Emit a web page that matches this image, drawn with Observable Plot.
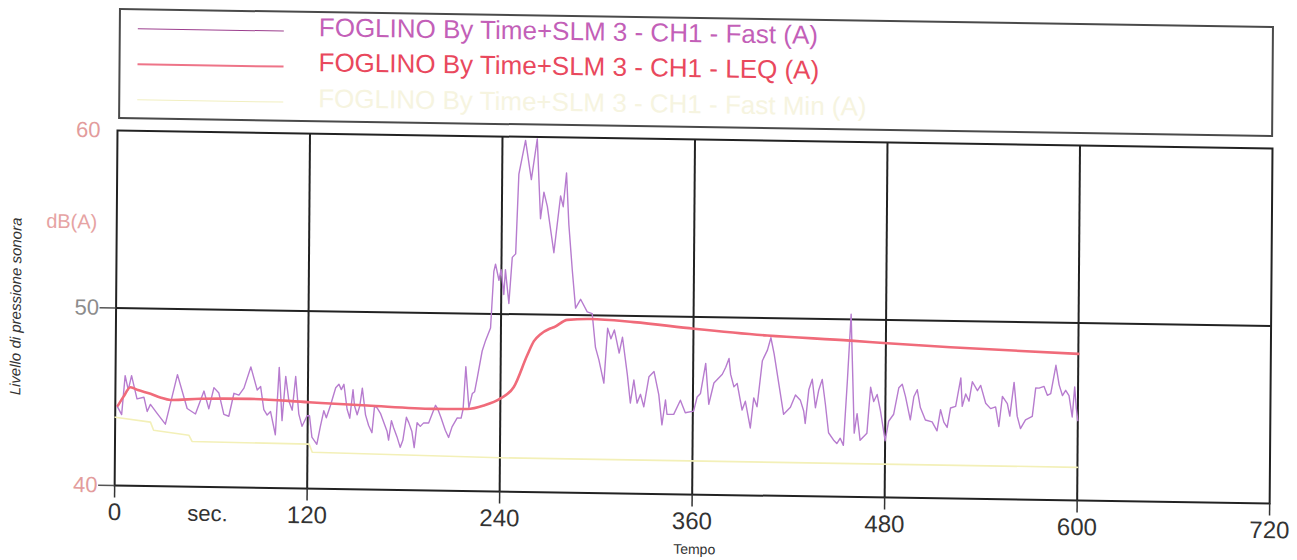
<!DOCTYPE html>
<html>
<head>
<meta charset="utf-8">
<script src="https://cdn.jsdelivr.net/npm/d3@7"></script>
<script src="https://cdn.jsdelivr.net/npm/@observablehq/plot@0.6"></script>
<style>
  html, body { margin: 0; padding: 0; background: #fff; }
  #page {
    position: absolute; left: 0; top: 0; width: 1297px; height: 560px;
    transform-origin: 117px 130px;
    transform: matrix(1, 0.0156, -0.008, 1, 0, 0);
    font-family: "Liberation Sans", Arial, sans-serif;
  }
  #legend {
    position: absolute; left: 118px; top: 8px; width: 1151px; height: 107px;
    border: 2px solid #4a4a4a; box-sizing: content-box;
  }
  .swatch { position: absolute; left: 17px; width: 146px; height: 0; }
  .entry { position: absolute; left: 198px; font-size: 26px; line-height: 1; white-space: nowrap; }
  #chart { position: absolute; left: 0; top: 122px; }
</style>
</head>
<body>
<div id="page">
  <div id="legend"></div>
  <div id="chart"></div>
</div>
<script>
// Sound level measurement, 10 minutes (seconds vs dB(A))
const seriesNames = [
  "FOGLINO By Time+SLM 3 - CH1 - Fast (A)",
  "FOGLINO By Time+SLM 3 - CH1 - LEQ (A)",
  "FOGLINO By Time+SLM 3 - CH1 - Fast Min (A)"
];

// Fast (A) level, read at its turning points
const fastTime = [
  1, 4, 6, 8, 10, 13.5, 17.8, 19.9, 21.9, 26.1, 31.3, 38.6, 44.8, 50, 55.2, 58.3, 61.4, 64.5, 67.7, 70.8,
  73.9, 77, 80.1, 84.3, 88.4, 90.5, 92.6, 94.7, 96.8, 99.9, 102, 104, 106.1, 108.2, 110.3, 112.3, 114.4, 116.5, 119.6, 121.1,
  122.7, 125.8, 127.9, 130, 131.6, 134.1, 137.3, 139.3, 140.8, 142.4, 144.5, 146.2, 148.1, 149.1, 150.8, 152.4, 153.9, 156, 158, 160.1,
  161.6, 163.2, 165.3, 169.5, 170.5, 172.2, 173.6, 175.7, 177.8, 179.4, 181.5, 183, 185, 186.5, 188.2, 190.2, 192.3, 195.4, 199.6, 201,
  203.1, 205.8, 207.9, 210, 213.1, 215.6, 216.8, 218.3, 220.4, 222.5, 223.9, 225.5, 228.4, 230.5, 233.5, 235.3, 236.3, 238.5, 239.8, 241.6,
  242.5, 244.8, 246.7, 248.8, 250.4, 254.4, 258.2, 261.7, 264.1, 266.1, 268.3, 272.6, 276.5, 278.2, 280.1, 281.8, 284.2, 286.4, 289.5, 293.7,
  296.8, 299, 301.2, 304.4, 306.5, 308.6, 310.7, 313.8, 315.8, 319, 321, 323.1, 325.2, 327.3, 329.4, 332.5, 335.6, 338.7, 340.8, 342.9,
  343.9, 348.1, 352.2, 355.3, 360.5, 362.6, 364.7, 367.8, 369.9, 373, 378.2, 380.3, 382.3, 383.4, 385.5, 387.5, 390.7, 392.7, 395.9, 397.9,
  400, 403.1, 406.2, 408.3, 410.4, 413.5, 416.6, 420.8, 423.9, 427, 429.1, 430.1, 432.2, 434.3, 436.4, 438.4, 440.5, 442.6, 444.7, 447.8,
  449.9, 452, 454, 456.1, 458.2, 460.7, 462.4, 464.4, 468.6, 470.7, 472.7, 474.8, 476.9, 480, 482.1, 485.2, 488.3, 490.4, 492.5, 495.6,
  497.7, 499.8, 501.8, 505, 509.2, 512.3, 514.4, 516.5, 518.6, 520.6, 523.8, 526.9, 527.9, 530, 532.1, 534.1, 537.3, 539.3, 542.5, 545.6,
  548.7, 550.8, 552.9, 556, 557.6, 560.1, 562.2, 564.3, 567.4, 571.6, 573.6, 575.7, 578.8, 580.9, 583, 586.1, 588.2, 590.3, 592.3, 594.4,
  596.5, 597.9, 599, 600
];
const fastLevel = [
  44.5, 44.0, 46.2, 45.4, 46.2, 44.9, 45.0, 44.2, 44.6, 44.1, 43.5, 46.3, 44.4, 44.1, 45.4, 44.4, 45.6, 45.3, 44.1, 44.0,
  45.3, 45.2, 45.6, 46.8, 45.5, 45.7, 44.4, 44.1, 44.3, 43.0, 46.8, 43.8, 46.3, 44.9, 44.4, 46.3, 44.2, 43.5, 44.1, 44.1,
  42.9, 42.5, 43.5, 44.4, 44.0, 44.7, 45.7, 45.9, 45.6, 45.9, 44.5, 44.0, 45.6, 44.7, 44.2, 44.7, 45.7, 44.2, 43.6, 43.2,
  44.7, 44.6, 44.3, 43.3, 42.8, 43.9, 43.5, 43.0, 42.4, 42.8, 44.1, 43.8, 43.3, 42.4, 43.8, 43.6, 43.8, 43.8, 44.8, 44.6,
  44.1, 43.4, 43.0, 43.6, 44.1, 44.1, 44.6, 47.0, 44.7, 45.5, 45.6, 46.4, 47.9, 48.5, 49.2, 52.4, 52.8, 51.9, 52.5, 51.1,
  52.5, 50.6, 53.2, 53.4, 57.9, 59.8, 57.6, 59.9, 55.4, 56.9, 56.1, 53.5, 56.7, 56.1, 58.0, 55.1, 52.5, 50.4, 50.9, 50.2,
  50.1, 48.2, 47.5, 46.2, 49.3, 48.7, 49.2, 47.9, 48.8, 46.7, 45.1, 46.4, 45.1, 45.6, 44.9, 46.6, 46.9, 45.6, 43.9, 45.3,
  44.5, 44.5, 45.3, 44.6, 44.7, 45.5, 45.7, 47.4, 45.1, 46.3, 46.8, 47.2, 47.7, 46.8, 46.1, 46.3, 44.8, 45.3, 43.8, 45.5,
  45.0, 47.6, 48.2, 48.9, 48.0, 46.3, 44.6, 45.0, 45.7, 45.4, 44.8, 44.1, 46.0, 46.6, 45.0, 46.0, 46.6, 45.2, 43.6, 43.2,
  43.0, 43.3, 42.9, 46.4, 50.3, 43.6, 44.7, 43.2, 43.6, 46.2, 45.4, 45.8, 44.9, 43.2, 44.3, 44.7, 46.2, 46.4, 45.7, 44.4,
  45.7, 46.1, 45.1, 44.4, 44.3, 43.8, 45.0, 44.3, 44.0, 45.1, 45.2, 46.8, 45.2, 45.9, 45.5, 46.6, 46.1, 46.4, 45.4, 45.1,
  45.2, 44.1, 45.8, 45.4, 44.7, 46.6, 44.7, 44.0, 44.5, 44.7, 46.3, 46.3, 46.4, 45.9, 46.0, 47.6, 46.5, 45.9, 46.2, 45.9,
  44.7, 46.4, 45.2, 44.5
];

// LEQ (A), running equivalent level
const leqTime  = [1.6, 5, 9.4, 14, 21.9, 28, 34.4, 53, 84, 120.6, 157, 198.6, 219.4, 229.7, 240.1, 248.3, 256.5, 260.6, 264.7, 270, 273, 281.3, 295.8, 322.8, 360.3, 406, 458, 480.9, 520.3, 600];
const leqLevel = [44.5, 45.0, 45.55, 45.4, 45.2, 45.0, 44.87, 44.96, 45.0, 44.86, 44.73, 44.6, 44.62, 44.83, 45.25, 45.9, 47.7, 48.5, 48.9, 49.2, 49.3, 49.73, 49.8, 49.66, 49.34, 49.02, 48.81, 48.69, 48.52, 48.26];

// Fast Min (A)
const minTime  = [0, 22, 24, 46, 48, 121, 123, 240, 600];
const minLevel = [43.85, 43.6, 43.15, 42.9, 42.55, 42.5, 42.05, 41.9, 41.87];

const xTicks = [0, 120, 240, 360, 480, 600, 720];
const yTicks = [40, 50, 60];
const xUnit = "sec.";
const xTitle = "Tempo";
const yUnit = "dB(A)";
const yTitle = "Livello di pressione sonora";

const fastRows = fastTime.map((t, i) => ({t, db: fastLevel[i]}));
const leqRows = leqTime.map((t, i) => ({t, db: leqLevel[i]}));
const minRows = minTime.map((t, i) => ({t, db: minLevel[i]}));

const fastColor = "#b77ccf";
const leqColor = "#f06b7a";
const minColor = "#f3f0b8";

// legend box
const legendStyles = [
  {line: "#9c3f8e", width: 1.6, text: "#c35fb8", top: 18},
  {line: "#ee7488", width: 2.4, text: "#e9485d", top: 53},
  {line: "#f1efc0", width: 1.6, text: "#f6f4e0", top: 89}
];
const legend = document.getElementById("legend");
seriesNames.forEach((name, i) => {
  const s = legendStyles[i];
  const sw = document.createElement("div");
  sw.className = "swatch";
  sw.style.top = s.top + "px";
  sw.style.borderTop = `${s.width}px solid ${s.line}`;
  legend.appendChild(sw);
  const tx = document.createElement("div");
  tx.className = "entry";
  tx.style.top = (s.top - 17) + "px";
  tx.style.color = s.text;
  tx.textContent = name;
  legend.appendChild(tx);
});

const chart = Plot.plot({
  width: 1297,
  height: 438,
  marginTop: 8,
  marginLeft: 117,
  marginRight: 25,
  marginBottom: 75,
  x: {domain: [0, 720], axis: null},
  y: {domain: [40, 60], axis: null},
  color: {type: "identity"},
  style: {fontFamily: "'Liberation Sans', Arial, sans-serif", background: "transparent", overflow: "visible"},
  marks: [
    Plot.ruleY([50], {stroke: "#222", strokeWidth: 2}),
    Plot.ruleX(xTicks.slice(1, -1), {stroke: "#222", strokeWidth: 2}),
    Plot.frame({stroke: "#222", strokeWidth: 2}),
    Plot.ruleX(xTicks, {y1: 40, y2: 39.3, stroke: "#333", strokeWidth: 1.5}),
    Plot.ruleY([40, 50], {x1: -10, x2: 0, stroke: "#555", strokeWidth: 1.5}),
    Plot.line(minRows, {x: "t", y: "db", stroke: minColor, strokeWidth: 1.6}),
    Plot.line(fastRows, {x: "t", y: "db", stroke: fastColor, strokeWidth: 1.4}),
    Plot.line(leqRows, {x: "t", y: "db", stroke: leqColor, strokeWidth: 2.6, curve: "monotone-x"}),
    Plot.text(xTicks, {x: d => d, y: 40, dy: 27, text: d => String(d), fontSize: 24, fill: "#333", textAnchor: "middle", lineAnchor: "middle"}),
    Plot.text([xUnit], {frameAnchor: "bottom-left", dx: 93, dy: 27, fontSize: 22, fill: "#333", textAnchor: "middle", lineAnchor: "middle"}),
    Plot.text([xTitle], {frameAnchor: "bottom-left", dx: 580, dy: 55, fontSize: 14, fill: "#333", textAnchor: "middle", lineAnchor: "middle"}),
    Plot.text(yTicks, {x: 0, y: d => d, dx: -17, text: d => String(d), fontSize: 22, textAnchor: "end", lineAnchor: "middle",
      fill: d => d === 50 ? "#8c8c8c" : "#e39c9c"}),
    Plot.text([yUnit], {frameAnchor: "top-left", dx: -45, dy: 92, fontSize: 20, fill: "#e6a3a3", textAnchor: "middle", lineAnchor: "middle"}),
    Plot.text([yTitle], {frameAnchor: "left", dx: -100, rotate: -90, fontSize: 15, fontStyle: "italic", fill: "#333", textAnchor: "middle", lineAnchor: "middle"})
  ]
});
document.getElementById("chart").appendChild(chart);
</script>
</body>
</html>
